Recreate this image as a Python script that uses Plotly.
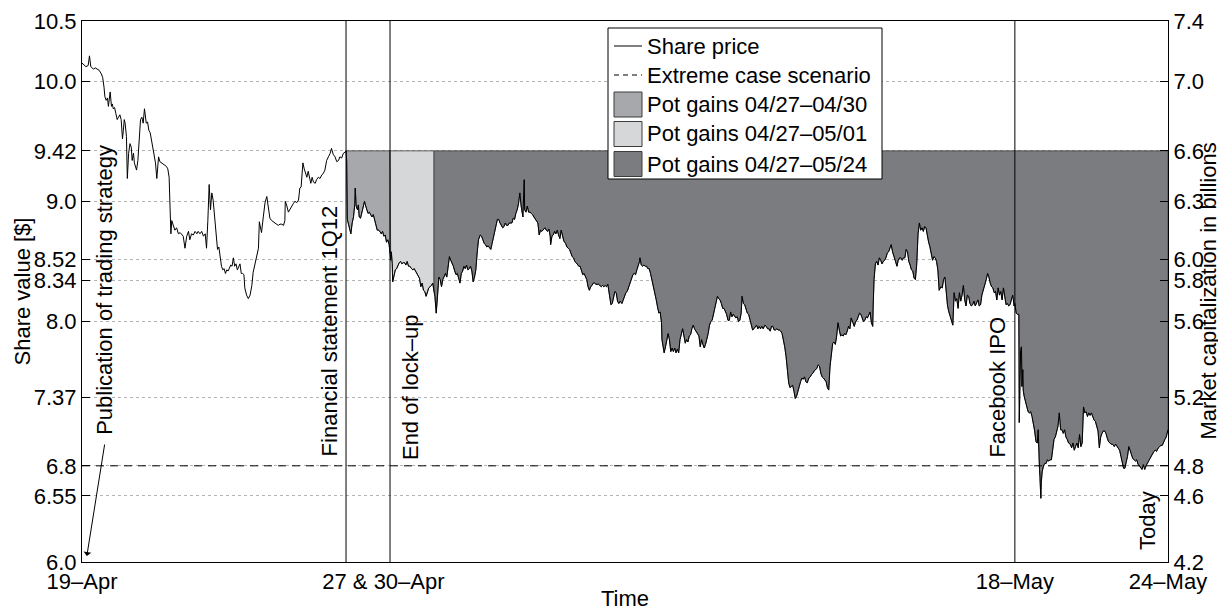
import plotly.graph_objects as go

# ---------------- data (time in trading days since 19-Apr, price in $) ----------------
TIME = [
    0.00, 0.09, 0.14, 0.17, 0.20, 0.26, 0.30, 0.35, 0.39, 0.44,
    0.47, 0.50, 0.52, 0.55, 0.58, 0.60, 0.62, 0.64, 0.67, 0.69,
    0.71, 0.74, 0.77, 0.80, 0.83, 0.86, 0.89, 0.92, 0.94, 0.96,
    0.98, 1.01, 1.03, 1.06, 1.09, 1.12, 1.14, 1.17, 1.19, 1.22,
    1.24, 1.27, 1.29, 1.31, 1.33, 1.36, 1.39, 1.42, 1.44, 1.46,
    1.49, 1.52, 1.55, 1.58, 1.61, 1.64, 1.67, 1.70, 1.72, 1.74,
    1.77, 1.81, 1.85, 1.89, 1.92, 1.95, 1.98, 2.00, 2.02, 2.04,
    2.08, 2.11, 2.15, 2.19, 2.23, 2.27, 2.30, 2.34, 2.38, 2.42,
    2.45, 2.49, 2.53, 2.57, 2.61, 2.64, 2.68, 2.72, 2.76, 2.80,
    2.83, 2.86, 2.89, 2.92, 2.95, 2.98, 3.02, 3.05, 3.08, 3.11,
    3.14, 3.17, 3.20, 3.23, 3.26, 3.29, 3.32, 3.35, 3.38, 3.41,
    3.44, 3.47, 3.50, 3.53, 3.56, 3.59, 3.62, 3.65, 3.68, 3.70,
    3.74, 3.78, 3.82, 3.86, 3.89, 3.93, 3.97, 4.01, 4.03, 4.08,
    4.12, 4.16, 4.20, 4.23, 4.27, 4.31, 4.35, 4.39, 4.42, 4.46,
    4.50, 4.54, 4.58, 4.61, 4.62, 4.65, 4.69, 4.73, 4.77, 4.80,
    4.84, 4.88, 4.92, 4.95, 4.98, 5.02, 5.05, 5.08, 5.11, 5.14,
    5.17, 5.20, 5.23, 5.26, 5.30, 5.33, 5.37, 5.41, 5.45, 5.48,
    5.52, 5.56, 5.60, 5.64, 5.67, 5.71, 5.75, 5.79, 5.83, 5.86,
    5.90, 5.94, 5.98, 6.00, 6.015, 6.03, 6.05, 6.08, 6.11, 6.14,
    6.17, 6.20, 6.21, 6.23, 6.26, 6.28, 6.30, 6.33, 6.36, 6.39,
    6.42, 6.44, 6.47, 6.50, 6.53, 6.56, 6.59, 6.62, 6.65, 6.68,
    6.71, 6.74, 6.77, 6.80, 6.83, 6.86, 6.89, 6.92, 6.95, 6.98,
    7.00, 7.015, 7.03, 7.05, 7.06, 7.09, 7.12, 7.15, 7.18, 7.21,
    7.24, 7.27, 7.30, 7.33, 7.36, 7.39, 7.42, 7.45, 7.49, 7.52,
    7.55, 7.58, 7.61, 7.64, 7.67, 7.70, 7.73, 7.76, 7.79, 7.82,
    7.85, 7.88, 7.91, 7.94, 7.97, 8.00, 8.02, 8.05, 8.08, 8.11,
    8.14, 8.17, 8.20, 8.23, 8.26, 8.29, 8.32, 8.35, 8.38, 8.41,
    8.44, 8.47, 8.50, 8.53, 8.56, 8.59, 8.62, 8.65, 8.68, 8.71,
    8.74, 8.77, 8.80, 8.83, 8.86, 8.89, 8.92, 8.95, 8.98, 9.01,
    9.05, 9.08, 9.11, 9.14, 9.17, 9.20, 9.23, 9.26, 9.29, 9.32,
    9.35, 9.38, 9.41, 9.44, 9.47, 9.50, 9.53, 9.56, 9.59, 9.62,
    9.65, 9.68, 9.71, 9.74, 9.77, 9.80, 9.83, 9.86, 9.89, 9.92,
    9.95, 9.98, 10.02, 10.05, 10.06, 10.09, 10.12, 10.15, 10.18, 10.21,
    10.24, 10.27, 10.30, 10.33, 10.36, 10.39, 10.42, 10.45, 10.48, 10.52,
    10.55, 10.58, 10.61, 10.64, 10.65, 10.68, 10.71, 10.74, 10.77, 10.80,
    10.83, 10.86, 10.89, 10.92, 10.95, 10.99, 11.02, 11.05, 11.08, 11.11,
    11.14, 11.17, 11.20, 11.23, 11.26, 11.29, 11.32, 11.35, 11.38, 11.41,
    11.44, 11.47, 11.50, 11.53, 11.56, 11.59, 11.62, 11.65, 11.68, 11.71,
    11.74, 11.77, 11.80, 11.83, 11.86, 11.89, 11.92, 11.95, 11.98, 12.02,
    12.05, 12.08, 12.11, 12.14, 12.17, 12.20, 12.23, 12.27, 12.30, 12.33,
    12.36, 12.39, 12.42, 12.45, 12.48, 12.52, 12.55, 12.58, 12.61, 12.64,
    12.67, 12.68, 12.71, 12.74, 12.77, 12.80, 12.83, 12.86, 12.89, 12.92,
    12.95, 12.98, 13.02, 13.05, 13.08, 13.11, 13.14, 13.17, 13.18, 13.20,
    13.23, 13.26, 13.29, 13.32, 13.35, 13.38, 13.41, 13.44, 13.47, 13.50,
    13.53, 13.56, 13.59, 13.62, 13.65, 13.68, 13.71, 13.74, 13.77, 13.80,
    13.83, 13.86, 13.89, 13.92, 13.95, 13.98, 14.02, 14.05, 14.08, 14.11,
    14.14, 14.17, 14.20, 14.23, 14.26, 14.29, 14.32, 14.35, 14.38, 14.41,
    14.44, 14.47, 14.50, 14.53, 14.56, 14.59, 14.62, 14.65, 14.68, 14.71,
    14.74, 14.77, 14.80, 14.83, 14.86, 14.89, 14.92, 14.95, 14.98, 15.00,
    15.03, 15.06, 15.09, 15.12, 15.15, 15.18, 15.21, 15.24, 15.27, 15.30,
    15.33, 15.36, 15.39, 15.42, 15.45, 15.48, 15.52, 15.55, 15.58, 15.61,
    15.64, 15.67, 15.70, 15.73, 15.76, 15.79, 15.82, 15.85, 15.88, 15.91,
    15.94, 15.97, 16.00, 16.03, 16.06, 16.09, 16.12, 16.15, 16.18, 16.21,
    16.24, 16.27, 16.30, 16.33, 16.36, 16.39, 16.42, 16.45, 16.48, 16.52,
    16.55, 16.58, 16.61, 16.64, 16.67, 16.70, 16.73, 16.76, 16.79, 16.82,
    16.85, 16.88, 16.91, 16.94, 16.97, 17.00, 17.03, 17.06, 17.09, 17.12,
    17.15, 17.18, 17.21, 17.24, 17.27, 17.30, 17.33, 17.36, 17.39, 17.42,
    17.45, 17.48, 17.52, 17.55, 17.58, 17.61, 17.64, 17.67, 17.70, 17.73,
    17.76, 17.79, 17.82, 17.85, 17.88, 17.91, 17.94, 17.97, 17.98, 18.00,
    18.03, 18.06, 18.09, 18.12, 18.15, 18.18, 18.21, 18.24, 18.27, 18.30,
    18.33, 18.36, 18.39, 18.42, 18.45, 18.48, 18.52, 18.55, 18.58, 18.61,
    18.64, 18.67, 18.70, 18.73, 18.76, 18.79, 18.82, 18.85, 18.88, 18.91,
    18.94, 18.97, 19.00, 19.03, 19.06, 19.09, 19.12, 19.15, 19.18, 19.21,
    19.24, 19.27, 19.30, 19.33, 19.36, 19.39, 19.42, 19.45, 19.48, 19.52,
    19.55, 19.58, 19.61, 19.64, 19.67, 19.70, 19.73, 19.76, 19.79, 19.82,
    19.85, 19.88, 19.91, 19.94, 19.97, 20.00, 20.03, 20.06, 20.09, 20.12,
    20.15, 20.18, 20.21, 20.24, 20.27, 20.30, 20.33, 20.36, 20.39, 20.42,
    20.45, 20.48, 20.52, 20.55, 20.58, 20.61, 20.64, 20.67, 20.70, 20.73,
    20.76, 20.79, 20.82, 20.85, 20.88, 20.91, 20.94, 20.97, 21.00, 21.03,
    21.06, 21.09, 21.12, 21.15, 21.17, 21.18, 21.20, 21.23, 21.26, 21.29,
    21.30, 21.32, 21.33, 21.35, 21.36, 21.38, 21.39, 21.41, 21.44, 21.47,
    21.50, 21.53, 21.56, 21.59, 21.62, 21.65, 21.68, 21.71, 21.73, 21.74,
    21.76, 21.77, 21.79, 21.80, 21.82, 21.85, 21.88, 21.91, 21.94, 21.97,
    22.00, 22.03, 22.06, 22.09, 22.12, 22.15, 22.18, 22.21, 22.24, 22.27,
    22.30, 22.33, 22.36, 22.39, 22.42, 22.46, 22.49, 22.52, 22.55, 22.58,
    22.61, 22.64, 22.67, 22.70, 22.73, 22.76, 22.79, 22.82, 22.85, 22.88,
    22.91, 22.94, 22.97, 23.00, 23.03, 23.06, 23.09, 23.12, 23.15, 23.18,
    23.21, 23.24, 23.27, 23.30, 23.33, 23.36, 23.39, 23.42, 23.46, 23.49,
    23.52, 23.55, 23.58, 23.61, 23.64, 23.67, 23.70, 23.73, 23.76, 23.79,
    23.82, 23.85, 23.88, 23.91, 23.94, 23.97, 24.00, 24.03, 24.06, 24.09,
    24.12, 24.15, 24.18, 24.21, 24.24, 24.27, 24.30, 24.33, 24.36, 24.39,
    24.42, 24.46, 24.49, 24.52, 24.55, 24.58, 24.61, 24.64, 24.67, 24.68,
]
PRICE = [
    10.15, 10.12, 10.13, 10.21, 10.12, 10.10, 10.11, 10.10, 10.09, 10.06,
    10.03, 9.95, 9.87, 9.84, 9.86, 9.79, 9.84, 9.91, 9.79, 9.81,
    9.77, 9.78, 9.73, 9.68, 9.70, 9.72, 9.68, 9.52, 9.59, 9.68,
    9.65, 9.54, 9.19, 9.40, 9.48, 9.45, 9.34, 9.40, 9.32, 9.29,
    9.26, 9.34, 9.43, 9.55, 9.68, 9.70, 9.65, 9.77, 9.70, 9.65,
    9.66, 9.59, 9.57, 9.51, 9.43, 9.40, 9.32, 9.19, 9.29, 9.37,
    9.33, 9.32, 9.31, 9.30, 9.29, 9.27, 9.20, 8.96, 8.73, 8.84,
    8.79, 8.76, 8.78, 8.73, 8.74, 8.72, 8.71, 8.61, 8.71, 8.75,
    8.68, 8.73, 8.72, 8.75, 8.73, 8.75, 8.73, 8.75, 8.71, 8.73,
    8.61, 8.84, 9.14, 8.93, 9.07, 9.01, 8.84, 8.68, 8.60, 8.62,
    8.54, 8.46, 8.43, 8.44, 8.40, 8.43, 8.42, 8.44, 8.47, 8.46,
    8.53, 8.46, 8.48, 8.43, 8.46, 8.48, 8.40, 8.40, 8.39, 8.28,
    8.22, 8.19, 8.22, 8.30, 8.41, 8.48, 8.54, 8.61, 8.83, 8.74,
    8.87, 8.99, 9.04, 8.96, 8.86, 8.84, 8.83, 8.82, 8.81, 8.80,
    8.81, 8.81, 8.80, 8.84, 9.00, 8.97, 8.91, 8.94, 8.96, 8.98,
    9.00, 8.99, 9.01, 9.11, 9.12, 9.32, 9.27, 9.23, 9.20, 9.25,
    9.18, 9.15, 9.20, 9.16, 9.15, 9.18, 9.20, 9.19, 9.22, 9.23,
    9.26, 9.34, 9.37, 9.40, 9.44, 9.39, 9.37, 9.33, 9.34, 9.37,
    9.36, 9.40, 9.41, 9.42, 9.34, 8.85, 8.82, 8.76, 8.73, 8.82,
    8.87, 8.98, 9.11, 8.96, 8.93, 8.97, 8.87, 8.86, 8.91, 8.96,
    9.00, 8.97, 8.93, 8.90, 8.91, 8.89, 8.87, 8.89, 8.85, 8.80,
    8.76, 8.76, 8.75, 8.73, 8.75, 8.71, 8.72, 8.66, 8.68, 8.64,
    8.57, 8.51, 8.58, 8.48, 8.33, 8.40, 8.43, 8.44, 8.47, 8.49,
    8.50, 8.48, 8.49, 8.49, 8.47, 8.50, 8.46, 8.46, 8.44, 8.43,
    8.44, 8.42, 8.40, 8.38, 8.36, 8.29, 8.32, 8.26, 8.25, 8.21,
    8.25, 8.28, 8.29, 8.30, 8.32, 8.25, 8.21, 8.07, 8.21, 8.37,
    8.35, 8.29, 8.35, 8.37, 8.40, 8.37, 8.46, 8.54, 8.51, 8.49,
    8.46, 8.42, 8.39, 8.40, 8.35, 8.32, 8.40, 8.42, 8.46, 8.44,
    8.47, 8.43, 8.44, 8.46, 8.42, 8.33, 8.37, 8.43, 8.57, 8.68,
    8.72, 8.71, 8.68, 8.65, 8.64, 8.62, 8.63, 8.61, 8.60, 8.65,
    8.71, 8.76, 8.80, 8.85, 8.85, 8.82, 8.80, 8.78, 8.79, 8.82,
    8.80, 8.80, 8.82, 8.82, 8.82, 8.86, 8.85, 8.90, 8.93, 8.98,
    9.07, 8.96, 8.87, 9.18, 8.93, 8.91, 8.96, 8.91, 8.91, 8.90,
    8.89, 8.87, 8.85, 8.83, 8.82, 8.72, 8.76, 8.75, 8.76, 8.78,
    8.76, 8.75, 8.77, 8.71, 8.64, 8.71, 8.72, 8.75, 8.73, 8.76,
    8.72, 8.69, 8.76, 8.71, 8.67, 8.65, 8.62, 8.61, 8.60, 8.57,
    8.54, 8.53, 8.50, 8.49, 8.47, 8.46, 8.46, 8.42, 8.39, 8.40,
    8.37, 8.35, 8.29, 8.26, 8.29, 8.30, 8.32, 8.32, 8.31, 8.31,
    8.31, 8.30, 8.29, 8.30, 8.29, 8.30, 8.29, 8.31, 8.22, 8.14,
    8.15, 8.21, 8.25, 8.24, 8.17, 8.15, 8.17, 8.15, 8.18, 8.21,
    8.24, 8.25, 8.28, 8.32, 8.35, 8.39, 8.40, 8.39, 8.43, 8.46,
    8.50, 8.53, 8.47, 8.46, 8.47, 8.46, 8.46, 8.44, 8.44, 8.40,
    8.35, 8.32, 8.25, 8.18, 8.12, 8.07, 8.08, 7.99, 7.85, 7.81,
    7.74, 7.79, 7.85, 7.90, 7.85, 7.75, 7.78, 7.75, 7.78, 7.74,
    7.77, 7.74, 7.85, 7.90, 7.94, 7.88, 7.82, 7.85, 7.83, 7.88,
    7.89, 7.94, 7.97, 7.94, 7.92, 7.90, 7.88, 7.79, 7.85, 7.81,
    7.78, 7.81, 7.85, 7.90, 7.97, 8.00, 8.01, 8.06, 8.12, 8.17,
    8.21, 8.19, 8.18, 8.15, 8.11, 8.11, 8.08, 8.06, 8.01, 8.01,
    8.08, 8.04, 8.06, 8.04, 8.03, 8.04, 8.00, 8.01, 8.07, 8.21,
    8.15, 8.14, 8.10, 8.07, 8.06, 8.01, 7.97, 7.93, 7.94, 7.96,
    7.97, 7.94, 7.96, 7.94, 7.96, 7.94, 7.97, 7.96, 7.94, 7.94,
    7.92, 7.96, 7.96, 7.93, 7.93, 7.94, 7.93, 7.93, 7.92, 7.90,
    7.85, 7.79, 7.71, 7.57, 7.49, 7.45, 7.46, 7.47, 7.42, 7.36,
    7.38, 7.43, 7.46, 7.50, 7.53, 7.52, 7.54, 7.50, 7.49, 7.53,
    7.54, 7.56, 7.57, 7.59, 7.60, 7.61, 7.64, 7.63, 7.57, 7.54,
    7.53, 7.51, 7.50, 7.45, 7.43, 7.63, 7.74, 7.82, 7.83, 7.81,
    7.88, 7.99, 7.93, 7.88, 7.89, 7.88, 7.90, 7.89, 7.92, 7.96,
    7.94, 8.03, 7.99, 7.96, 8.00, 8.01, 8.04, 8.07, 8.06, 8.03,
    8.00, 8.01, 8.04, 8.03, 8.06, 8.08, 7.99, 7.96, 8.13, 8.35,
    8.48, 8.50, 8.47, 8.53, 8.51, 8.48, 8.50, 8.51, 8.53, 8.57,
    8.58, 8.61, 8.64, 8.58, 8.55, 8.51, 8.46, 8.51, 8.53, 8.53,
    8.51, 8.53, 8.53, 8.60, 8.58, 8.50, 8.47, 8.43, 8.42, 8.36,
    8.35, 8.48, 8.73, 8.82, 8.76, 8.78, 8.75, 8.79, 8.78, 8.71,
    8.66, 8.62, 8.57, 8.51, 8.54, 8.53, 8.50, 8.43, 8.26, 8.29,
    8.28, 8.35, 8.37, 8.24, 8.13, 8.08, 8.04, 7.99, 7.97, 8.24,
    8.17, 8.19, 8.11, 8.24, 8.17, 8.22, 8.30, 8.18, 8.13, 8.22,
    8.21, 8.15, 8.13, 8.14, 8.17, 8.13, 8.15, 8.18, 8.13, 8.14,
    8.22, 8.26, 8.29, 8.35, 8.40, 8.37, 8.32, 8.29, 8.28, 8.24,
    8.25, 8.18, 8.28, 8.22, 8.25, 8.18, 8.28, 8.22, 8.14, 8.15,
    8.13, 8.14, 8.18, 8.22, 8.17, 8.13, 8.15, 8.07, 8.06, 8.06,
    7.16, 7.43, 7.76, 7.79, 7.46, 7.60, 7.43, 7.38, 7.34, 7.29,
    7.25, 7.24, 7.25, 7.21, 7.16, 7.09, 7.00, 6.99, 7.10, 6.93,
    6.77, 6.71, 6.53, 6.66, 6.75, 6.80, 6.82, 6.82, 6.85, 6.84,
    6.85, 6.85, 6.93, 7.02, 7.04, 7.09, 7.13, 7.24, 7.10, 7.10,
    7.07, 7.10, 7.04, 7.02, 6.99, 6.98, 6.95, 6.99, 6.93, 6.96,
    6.99, 6.95, 7.06, 6.96, 6.99, 7.29, 7.24, 7.25, 7.21, 7.24,
    7.22, 7.24, 7.21, 7.18, 7.17, 7.13, 7.09, 6.95, 7.04, 7.07,
    7.09, 7.09, 7.07, 7.03, 7.00, 6.99, 6.98, 6.98, 6.96, 6.98,
    6.96, 6.95, 6.93, 6.88, 6.82, 6.78, 6.78, 6.82, 6.88, 6.96,
    6.93, 6.89, 6.86, 6.85, 6.84, 6.85, 6.81, 6.80, 6.78, 6.77,
    6.81, 6.77, 6.80, 6.82, 6.85, 6.86, 6.89, 6.91, 6.92, 6.93,
    6.92, 6.95, 6.96, 6.97, 6.97, 7.00, 7.02, 7.04, 7.09, 7.10,
]
assert len(TIME) == len(PRICE)

POT_LEVEL = 9.42          # reference price for potential gains
EXTREME_LEVEL = 6.8       # extreme case scenario
SEG_BOUNDS = [(6.0, 7.0), (7.0, 8.0), (8.0, 24.68)]
SEG_NAMES = ["Pot gains 04/27\u201304/30", "Pot gains 04/27\u201305/01", "Pot gains 04/27\u201305/24"]
SEG_COLORS = ["#a7a8ab", "#d6d7d9", "#7b7c80"]

EVENT_TIMES = [6.0, 7.0, 21.2]

LEFT_TICKS = [6.0, 6.55, 6.8, 7.37, 8.0, 8.34, 8.52, 9.0, 9.42, 10.0, 10.5]
LEFT_TEXT = ["6.0", "6.55", "6.8", "7.37", "8.0", "8.34", "8.52", "9.0", "9.42", "10.0", "10.5"]
RIGHT_TEXT = ["4.2", "4.6", "4.8", "5.2", "5.6", "5.8", "6.0", "6.3", "6.6", "7.0", "7.4"]
Y_RANGE = [6.0, 10.5]

X_TICKS = [0.0, 6.85, 21.2, 24.68]
X_TEXT = ["19\u2013Apr", "27 & 30\u2013Apr", "18\u2013May", "24\u2013May"]

# rotated event labels: text, time (centre), price (bottom of text)
EVENT_TEXT = ["Publication of trading strategy", "Financial statement 1Q12",
              "End of lock\u2013up", "Facebook IPO", "Today"]
EVENT_TEXT_T = [0.52, 5.62, 7.45, 20.8, 24.23]
EVENT_TEXT_V = [7.04, 6.86, 6.83, 6.85, 6.08]
ARROW_TAIL = (0.52, 6.99)
ARROW_TIP = (0.11, 6.05)

LEGEND_NAMES = ["Share price", "Extreme case scenario"] + SEG_NAMES

# ---------------- layout geometry (page pixels) ----------------
PAGE_W, PAGE_H = 1226, 612
BODY = 8                       # default page margin around the plot div
FIG_W, FIG_H = PAGE_W - BODY, PAGE_H - BODY
PL, PR, PT, PB = 82, 1168, 21, 562   # plot area in page pixels
FONT = "Liberation Sans, Arial, Helvetica, sans-serif"
FS = 22


def fx(px):
    return (px - PL) / (PR - PL)


def fy(py):
    return (PB - py) / (PB - PT)


LEG_BOX = (608, 28, 882, 179)
LEG_ROW_Y = [46, 75, 104.5, 134, 164]
LEG_SYM_X = (614, 642)
LEG_TEXT_X = 645
LEG_PATCH_H = 25

fig = go.Figure()

# potential-gain patches
for (t0, t1), name, col in zip(SEG_BOUNDS, SEG_NAMES, SEG_COLORS):
    xs = [t for t in TIME if t0 <= t <= t1]
    ys = [p for t, p in zip(TIME, PRICE) if t0 <= t <= t1]
    fig.add_trace(go.Scatter(
        x=[xs[0]] + xs + [xs[-1], xs[0]],
        y=[POT_LEVEL] + ys + [POT_LEVEL, POT_LEVEL],
        fill="toself", fillcolor=col, mode="lines",
        line=dict(color="#3c3c3c", width=0.8),
        name=name, hoverinfo="skip", showlegend=False))

# extreme case scenario
fig.add_trace(go.Scatter(
    x=[TIME[0], TIME[-1]], y=[EXTREME_LEVEL, EXTREME_LEVEL], mode="lines",
    line=dict(color="black", width=1, dash="8px,6px"),
    name="Extreme case scenario", showlegend=False))

# share price
fig.add_trace(go.Scatter(
    x=TIME, y=PRICE, mode="lines", line=dict(color="black", width=1),
    name="Share price", showlegend=False))

# invisible trace binding the right axis
fig.add_trace(go.Scatter(x=TIME, y=PRICE, yaxis="y2", mode="lines",
                         line=dict(width=0), opacity=0, showlegend=False,
                         hoverinfo="skip"))

shapes = [dict(type="line", xref="x", yref="paper", x0=t, x1=t, y0=0, y1=1,
               line=dict(color="black", width=1), layer="above")
          for t in EVENT_TIMES]

# hand-built legend (box, symbols)
shapes.append(dict(type="rect", xref="paper", yref="paper",
                   x0=fx(LEG_BOX[0]), x1=fx(LEG_BOX[2]), y0=fy(LEG_BOX[3]), y1=fy(LEG_BOX[1]),
                   fillcolor="white", line=dict(color="black", width=1), layer="above"))
shapes.append(dict(type="line", xref="paper", yref="paper",
                   x0=fx(LEG_SYM_X[0]), x1=fx(LEG_SYM_X[1]), y0=fy(LEG_ROW_Y[0]), y1=fy(LEG_ROW_Y[0]),
                   line=dict(color="black", width=1), layer="above"))
shapes.append(dict(type="line", xref="paper", yref="paper",
                   x0=fx(LEG_SYM_X[0]), x1=fx(LEG_SYM_X[1]), y0=fy(LEG_ROW_Y[1]), y1=fy(LEG_ROW_Y[1]),
                   line=dict(color="black", width=1, dash="5px,4px"), layer="above"))
for row_y, col in zip(LEG_ROW_Y[2:], SEG_COLORS):
    shapes.append(dict(type="rect", xref="paper", yref="paper",
                       x0=fx(LEG_SYM_X[0]), x1=fx(LEG_SYM_X[1]),
                       y0=fy(row_y + LEG_PATCH_H / 2), y1=fy(row_y - LEG_PATCH_H / 2),
                       fillcolor=col, line=dict(color="#3c3c3c", width=1), layer="above"))

annotations = []
for name, row_y in zip(LEGEND_NAMES, LEG_ROW_Y):
    annotations.append(dict(text=name, xref="paper", yref="paper", x=fx(LEG_TEXT_X), y=fy(row_y),
                            xanchor="left", yanchor="middle", showarrow=False,
                            font=dict(size=FS, color="black")))

for txt, t, v in zip(EVENT_TEXT, EVENT_TEXT_T, EVENT_TEXT_V):
    annotations.append(dict(text=txt, x=t, y=v, xref="x", yref="y",
                            textangle=-90, xanchor="center", yanchor="bottom",
                            showarrow=False, font=dict(size=FS, color="black")))
annotations.append(dict(text="", x=ARROW_TIP[0], y=ARROW_TIP[1], xref="x", yref="y",
                        ax=ARROW_TAIL[0], ay=ARROW_TAIL[1], axref="x", ayref="y",
                        showarrow=True, arrowhead=1, arrowsize=1.3, arrowwidth=1,
                        arrowcolor="black"))
annotations.append(dict(text="Share value [$]", xref="paper", yref="paper", x=0, y=0.5,
                        xshift=-60, textangle=-90, showarrow=False,
                        xanchor="center", yanchor="middle", font=dict(size=FS)))
annotations.append(dict(text="Market capitalization in billions", xref="paper", yref="paper",
                        x=1, y=0.5, xshift=40, textangle=-90, showarrow=False,
                        xanchor="center", yanchor="middle", font=dict(size=FS)))
annotations.append(dict(text="Time", xref="paper", yref="paper", x=0.5, y=0,
                        yshift=-36, showarrow=False, xanchor="center",
                        yanchor="middle", font=dict(size=FS)))

axis_common = dict(showline=True, linecolor="black", linewidth=1, zeroline=False,
                   tickcolor="black", ticklen=8, automargin=False,
                   tickfont=dict(size=FS, color="black"))

fig.update_layout(
    width=FIG_W, height=FIG_H,
    margin=dict(l=PL - BODY, r=PAGE_W - PR, t=PT - BODY, b=PAGE_H - PB, autoexpand=False),
    paper_bgcolor="white", plot_bgcolor="white",
    font=dict(family=FONT, size=FS, color="black"),
    showlegend=False,
    xaxis=dict(range=[TIME[0], TIME[-1]], tickvals=X_TICKS, ticktext=X_TEXT,
               showgrid=False, mirror=True, ticks="", **axis_common),
    yaxis=dict(range=Y_RANGE, tickvals=LEFT_TICKS, ticktext=LEFT_TEXT,
               showgrid=True, gridcolor="#b4b4b4", griddash="dot", gridwidth=1,
               mirror=True, ticks="inside", **axis_common),
    yaxis2=dict(range=Y_RANGE, tickvals=LEFT_TICKS, ticktext=RIGHT_TEXT,
                overlaying="y", side="right", showgrid=False, ticks="inside",
                **axis_common),
    shapes=shapes,
    annotations=annotations,
    hovermode=False,
)

fig.write_html("out.html")
